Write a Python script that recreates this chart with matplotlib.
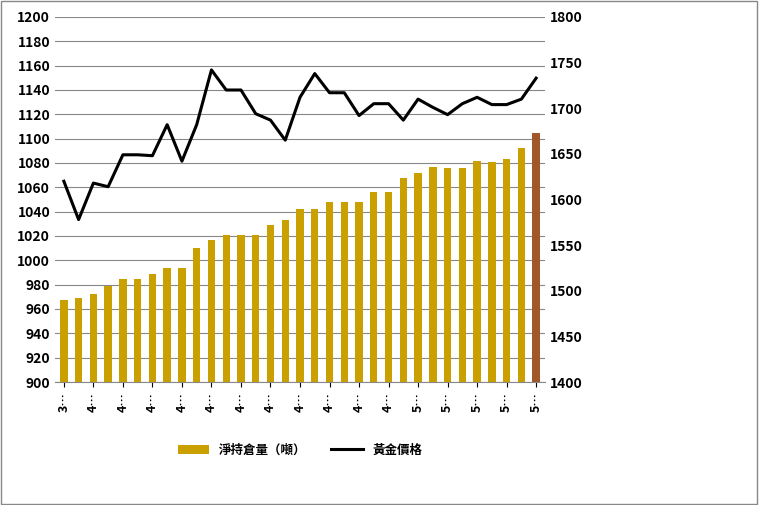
import matplotlib
matplotlib.use("Agg")
import matplotlib.pyplot as plt
import numpy as np

plt.rcParams['font.family'] = ['Noto Sans CJK TC', 'DejaVu Sans']

holdings = [967, 969, 972, 979, 985, 985, 989, 994, 994, 1010, 1017, 1021, 1021, 1021, 1029, 1033,
            1042, 1042, 1048, 1048, 1048, 1056, 1056, 1068, 1072, 1077, 1076, 1076, 1082, 1081,
            1083, 1092, 1105]
price = [1620, 1578, 1618, 1614, 1649, 1649, 1648, 1682, 1642, 1682, 1742, 1720, 1720, 1694, 1687,
         1665, 1712, 1738, 1717, 1717, 1692, 1705, 1705, 1687, 1710, 1701, 1693, 1705, 1712, 1704,
         1704, 1710, 1733]
tick_labels = ["3…"] + ["4…"] * 11 + ["5…"] * 5

fig = plt.figure(figsize=(7.59, 5.05), dpi=100)
ax = fig.add_axes([55/759, 1-382/505, 490/759, 365/505])
x = np.arange(len(holdings))
colors = ['#C9A000'] * (len(holdings) - 1) + ['#A0582A']
ax.bar(x, holdings, width=0.5, color=colors, zorder=2, label='淨持倉量（噸）')
ax.set_ylim(900, 1200)
ax.set_yticks(range(900, 1201, 20))
ax.set_xlim(-0.6, len(holdings) - 0.4)
ax.set_xticks(x[::2])
ax.set_xticklabels(tick_labels, rotation=90, fontsize=9, fontweight='bold')
ax.grid(axis='y', color='#888888', lw=0.8, zorder=0)
ax.tick_params(axis='y', labelsize=10, length=0)
for l in ax.get_yticklabels():
    l.set_fontweight('bold')
for s in ['top', 'right', 'left']:
    ax.spines[s].set_visible(False)
ax.spines['bottom'].set_color('#888888')

ax2 = ax.twinx()
ax2.plot(x, price, color='black', lw=2.2, label='黃金價格', zorder=3)
ax2.set_ylim(1400, 1800)
ax2.set_yticks(range(1400, 1801, 50))
ax2.tick_params(axis='y', labelsize=10, length=0)
for l in ax2.get_yticklabels():
    l.set_fontweight('bold')
for s in ['top', 'right', 'left', 'bottom']:
    ax2.spines[s].set_visible(False)

h1, l1 = ax.get_legend_handles_labels()
h2, l2 = ax2.get_legend_handles_labels()
fig.legend(h1 + h2, l1 + l2, loc='center', bbox_to_anchor=(300/759, 1-450/505), ncol=2,
           frameon=False, prop={'size': 9, 'weight': 'bold'}, handlelength=2.5)

fig.patches.append(plt.Rectangle((0.001, 0.001), 0.997, 0.997, transform=fig.transFigure,
                                 fill=False, edgecolor='#888888', lw=1))
fig.savefig('out.png', dpi=100)
